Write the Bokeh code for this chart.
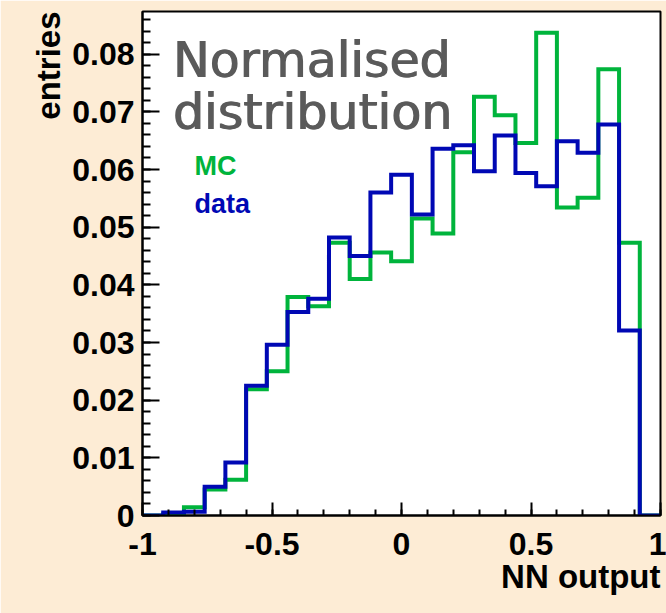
import numpy as np
from bokeh.plotting import figure
from bokeh.models import Range1d, FixedTicker, Label, Title
from bokeh.embed import file_html
from bokeh.resources import INLINE

# Histogram binning: 25 bins of width 0.08 on [-1, 1]
bin_edges = [round(-1.0 + 0.08 * i, 2) for i in range(26)]

# Normalised entries per bin
mc_entries = [0.0, 0.0002, 0.00145, 0.0045, 0.0062, 0.0219, 0.0250, 0.0379, 0.0363,
              0.0473, 0.0410, 0.0456, 0.0441, 0.0515, 0.0489, 0.0630, 0.0726, 0.0694,
              0.0646, 0.0837, 0.0534, 0.0551, 0.0774, 0.0473, 0.0]
data_entries = [0.0, 0.0005, 0.00064, 0.0050, 0.0092, 0.0225, 0.0296, 0.0353, 0.0376,
                0.0482, 0.0450, 0.0560, 0.0591, 0.0522, 0.0636, 0.0642, 0.0597, 0.0659,
                0.0594, 0.0571, 0.0649, 0.0629, 0.0678, 0.0321, 0.0]

x_ticks = [-1, -0.5, 0, 0.5, 1]
x_tick_labels = ["-1", "-0.5", "0", "0.5", "1"]
y_ticks = [0, 0.01, 0.02, 0.03, 0.04, 0.05, 0.06, 0.07, 0.08]
y_tick_labels = ["0", "0.01", "0.02", "0.03", "0.04", "0.05", "0.06", "0.07", "0.08"]

BG = "#fdecd5"
MC_COLOR = "#00b43c"
DATA_COLOR = "#0008b4"
FONT = "Liberation Sans"

p = figure(width=666, height=613, output_backend="svg", toolbar_location=None,
           x_range=Range1d(-1, 1), y_range=Range1d(0, 0.0874),
           min_border_left=142, min_border_right=6, min_border_top=11, min_border_bottom=98)
p.background_fill_color = "white"
p.border_fill_color = BG
p.outline_line_color = "black"
p.outline_line_width = 2
p.grid.visible = False

# Step outlines of the two histograms
def outline(vals):
    return list(vals) + [vals[-1]]

p.step(bin_edges, outline(mc_entries), mode="after", line_color=MC_COLOR,
       line_width=4, line_join="miter")
p.step(bin_edges, outline(data_entries), mode="after", line_color=DATA_COLOR,
       line_width=4, line_join="miter")

# Axes: inward ticks, bold labels
xa = p.xaxis[0]
xa.ticker = FixedTicker(ticks=x_ticks,
                        minor_ticks=[round(v, 2) for v in np.arange(-1, 1.001, 0.1)])
xa.major_label_overrides = {t: s for t, s in zip(x_ticks, x_tick_labels)}
ya = p.yaxis[0]
ya.ticker = FixedTicker(ticks=y_ticks,
                        minor_ticks=[round(v, 4) for v in np.arange(0, 0.0874, 0.002)])
ya.major_label_overrides = {t: s for t, s in zip(y_ticks, y_tick_labels)}

for ax, tin, min_in in ((xa, 13, 6), (ya, 17, 8)):
    ax.major_tick_in = tin
    ax.major_tick_out = 0
    ax.minor_tick_in = min_in
    ax.minor_tick_out = 0
    ax.major_tick_line_width = 2
    ax.minor_tick_line_width = 2
    ax.major_tick_line_color = "black"
    ax.minor_tick_line_color = "black"
    ax.axis_line_color = "black"
    ax.axis_line_width = 2
    ax.major_label_text_font = FONT
    ax.major_label_text_font_style = "bold"
    ax.major_label_text_font_size = "32px"
    ax.major_label_text_color = "black"
xa.major_label_standoff = 17
ya.major_label_standoff = 8

# Axis titles placed at the far ends of the axes
p.add_layout(Title(text="NN output", align="right", text_font=FONT,
                   text_font_style="bold", text_font_size="33px", text_color="black",
                   standoff=-4), "below")
p.add_layout(Title(text="entries", align="right", text_font=FONT,
                   text_font_style="bold", text_font_size="33px", text_color="black",
                   standoff=5), "left")

# Heading (drawn twice, 1px apart, for a heavier stroke) and series names
for txt, yy in (("Normalised", 455), ("distribution", 403)):
    for dx in (0, 1.2):
        p.add_layout(Label(x=30 + dx, y=yy, x_units="screen", y_units="screen", text=txt,
                           text_font="DejaVu Sans", text_font_size="49px",
                           text_color="#5a5a5a", text_baseline="alphabetic"))
p.add_layout(Label(x=52, y=350, x_units="screen", y_units="screen", text="MC",
                   text_font=FONT, text_font_style="bold", text_font_size="27px",
                   text_color=MC_COLOR, text_baseline="alphabetic"))
p.add_layout(Label(x=52, y=312, x_units="screen", y_units="screen", text="data",
                   text_font=FONT, text_font_style="bold", text_font_size="27px",
                   text_color=DATA_COLOR, text_baseline="alphabetic"))

open("out.html", "w").write(file_html(p, INLINE))
